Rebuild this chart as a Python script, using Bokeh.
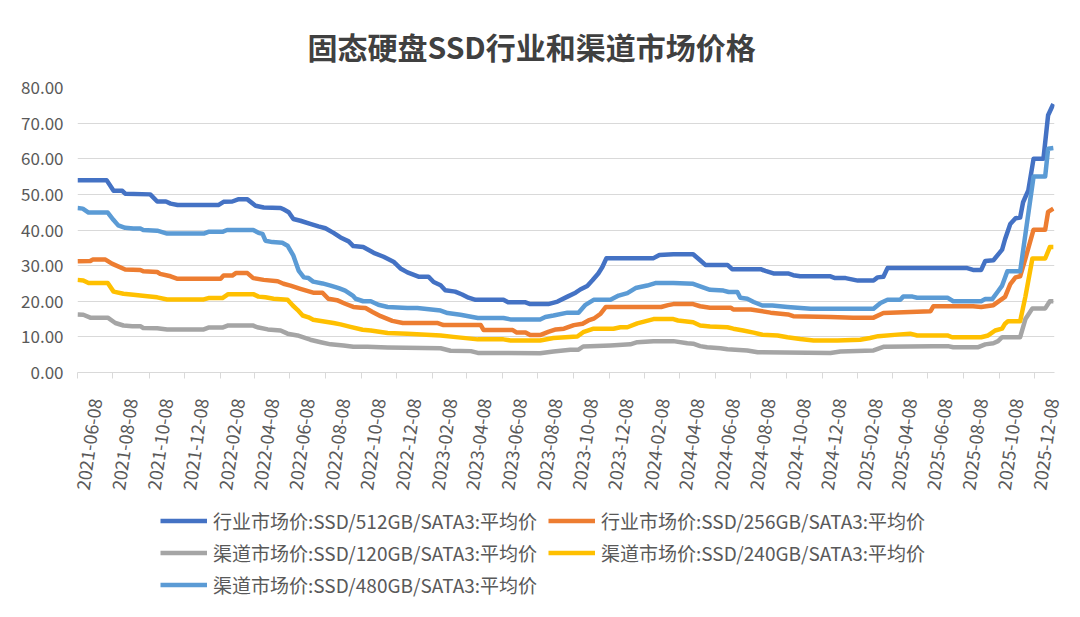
import pandas as pd
from bokeh.plotting import figure
from bokeh.layouts import column
from bokeh.models import (Range1d, FixedTicker, CustomJSTickFormatter, PrintfTickFormatter,
                          Legend, LegendItem)
from bokeh.embed import file_html
from bokeh.resources import INLINE

title_text = "固态硬盘SSD行业和渠道市场价格"

tick_dates = ["2021-06-08", "2021-08-08", "2021-10-08", "2021-12-08", "2022-02-08", "2022-04-08",
              "2022-06-08", "2022-08-08", "2022-10-08", "2022-12-08", "2023-02-08", "2023-04-08",
              "2023-06-08", "2023-08-08", "2023-10-08", "2023-12-08", "2024-02-08", "2024-04-08",
              "2024-06-08", "2024-08-08", "2024-10-08", "2024-12-08", "2025-02-08", "2025-04-08",
              "2025-06-08", "2025-08-08", "2025-10-08", "2025-12-08"]
minor_dates = ["2021-05-08", "2021-07-08", "2021-09-08", "2021-11-08", "2022-01-08", "2022-03-08",
               "2022-05-08", "2022-07-08", "2022-09-08", "2022-11-08", "2023-01-08", "2023-03-08",
               "2023-05-08", "2023-07-08", "2023-09-08", "2023-11-08", "2024-01-08", "2024-03-08",
               "2024-05-08", "2024-07-08", "2024-09-08", "2024-11-08", "2025-01-08", "2025-03-08",
               "2025-05-08", "2025-07-08", "2025-09-08", "2025-11-08"]
y_ticks = [0, 10, 20, 30, 40, 50, 60, 70, 80]

names = ["行业市场价:SSD/512GB/SATA3:平均价", "行业市场价:SSD/256GB/SATA3:平均价",
         "渠道市场价:SSD/120GB/SATA3:平均价", "渠道市场价:SSD/240GB/SATA3:平均价",
         "渠道市场价:SSD/480GB/SATA3:平均价"]
colors = ["#4472C4", "#ED7D31", "#A5A5A5", "#FFC000", "#5B9BD5"]

ind512 = [("2021-05-08", 54.0), ("2021-06-27", 54.0), ("2021-07-09", 51.0), ("2021-07-24", 51.0),
          ("2021-07-29", 50.2), ("2021-09-10", 50.0), ("2021-09-22", 48.0), ("2021-10-07", 48.0),
          ("2021-10-15", 47.4), ("2021-10-27", 47.0), ("2022-01-05", 47.0), ("2022-01-14", 47.9),
          ("2022-01-29", 48.0), ("2022-02-08", 48.6), ("2022-02-24", 48.6), ("2022-03-10", 46.8),
          ("2022-03-24", 46.3), ("2022-04-22", 46.2), ("2022-04-27", 45.8), ("2022-05-06", 45.0),
          ("2022-05-14", 43.1), ("2022-05-26", 42.6), ("2022-06-12", 41.7), ("2022-06-26", 41.0),
          ("2022-07-08", 40.5), ("2022-07-22", 39.2), ("2022-08-03", 37.9), ("2022-08-17", 36.8),
          ("2022-08-25", 35.5), ("2022-09-11", 35.2), ("2022-09-29", 33.6), ("2022-10-16", 32.5),
          ("2022-11-02", 31.1), ("2022-11-14", 29.2), ("2022-11-26", 28.1), ("2022-12-15", 26.9),
          ("2023-01-01", 26.9), ("2023-01-10", 25.4), ("2023-01-22", 24.5), ("2023-01-30", 23.1),
          ("2023-02-16", 22.7), ("2023-02-28", 21.9), ("2023-03-11", 21.0), ("2023-03-23", 20.4),
          ("2023-05-10", 20.4), ("2023-05-18", 19.7), ("2023-06-17", 19.7), ("2023-06-25", 19.2),
          ("2023-07-26", 19.2), ("2023-08-11", 19.9), ("2023-08-28", 21.3), ("2023-09-11", 22.4),
          ("2023-09-19", 23.3), ("2023-10-01", 24.3), ("2023-10-10", 25.9), ("2023-10-20", 27.8),
          ("2023-10-27", 29.6), ("2023-11-03", 32.1), ("2024-01-23", 32.1), ("2024-02-02", 33.0),
          ("2024-02-26", 33.2), ("2024-03-31", 33.2), ("2024-04-12", 31.5), ("2024-04-21", 30.2),
          ("2024-05-29", 30.2), ("2024-06-06", 29.0), ("2024-07-25", 29.0), ("2024-08-02", 28.5),
          ("2024-08-16", 27.8), ("2024-09-10", 27.8), ("2024-09-19", 27.3), ("2024-10-01", 27.0),
          ("2024-11-22", 27.0), ("2024-11-30", 26.5), ("2024-12-18", 26.5), ("2025-01-08", 25.8),
          ("2025-02-04", 25.8), ("2025-02-11", 26.7), ("2025-02-21", 26.9), ("2025-02-28", 29.3),
          ("2025-07-15", 29.3), ("2025-07-25", 28.8), ("2025-08-08", 28.8), ("2025-08-15", 31.3),
          ("2025-08-29", 31.5), ("2025-09-13", 34.5), ("2025-09-18", 37.4), ("2025-09-27", 41.7),
          ("2025-10-06", 43.3), ("2025-10-14", 43.5), ("2025-10-19", 47.8), ("2025-10-28", 51.1),
          ("2025-11-06", 60.0), ("2025-11-23", 60.0), ("2025-12-01", 72.2), ("2025-12-10", 75.4)]

ind256 = [("2021-05-08", 31.2), ("2021-05-30", 31.3), ("2021-06-03", 31.7), ("2021-06-25", 31.7),
          ("2021-07-07", 30.5), ("2021-07-29", 28.9), ("2021-08-24", 28.8), ("2021-08-29", 28.4),
          ("2021-09-22", 28.2), ("2021-09-27", 27.7), ("2021-10-15", 27.0), ("2021-10-27", 26.3),
          ("2022-01-09", 26.3), ("2022-01-14", 27.2), ("2022-01-29", 27.2), ("2022-02-04", 27.9),
          ("2022-02-24", 27.9), ("2022-03-06", 26.5), ("2022-03-24", 26.0), ("2022-04-17", 25.6),
          ("2022-04-27", 24.9), ("2022-05-09", 24.4), ("2022-05-26", 23.5), ("2022-06-17", 22.4),
          ("2022-07-03", 22.4), ("2022-07-13", 20.7), ("2022-07-28", 20.3), ("2022-08-11", 19.3),
          ("2022-08-25", 18.4), ("2022-09-07", 18.2), ("2022-09-15", 18.1), ("2022-09-27", 17.0),
          ("2022-10-11", 15.8), ("2022-10-31", 14.5), ("2022-11-18", 13.9), ("2023-01-16", 13.9),
          ("2023-01-27", 13.3), ("2023-04-01", 13.3), ("2023-04-06", 11.9), ("2023-05-26", 11.9),
          ("2023-06-02", 11.2), ("2023-06-17", 11.2), ("2023-06-25", 10.5), ("2023-07-12", 10.5),
          ("2023-07-26", 11.4), ("2023-08-08", 12.1), ("2023-08-22", 12.3), ("2023-09-08", 13.3),
          ("2023-09-23", 13.7), ("2023-10-03", 14.6), ("2023-10-12", 15.1), ("2023-10-24", 16.5),
          ("2023-11-02", 18.4), ("2024-02-05", 18.4), ("2024-02-17", 18.9), ("2024-02-26", 19.2),
          ("2024-03-31", 19.2), ("2024-04-12", 18.6), ("2024-04-29", 18.2), ("2024-06-04", 18.2),
          ("2024-06-08", 17.7), ("2024-07-08", 17.7), ("2024-08-11", 16.8), ("2024-09-10", 16.3),
          ("2024-09-19", 15.8), ("2024-11-22", 15.6), ("2024-12-31", 15.4), ("2025-02-04", 15.4),
          ("2025-02-21", 16.7), ("2025-05-13", 17.2), ("2025-05-18", 18.6), ("2025-07-25", 18.6),
          ("2025-08-08", 18.4), ("2025-08-29", 18.9), ("2025-09-10", 20.3), ("2025-09-18", 21.2),
          ("2025-09-27", 24.8), ("2025-10-06", 26.7), ("2025-10-14", 27.0), ("2025-10-23", 32.0),
          ("2025-11-06", 40.1), ("2025-11-26", 40.1), ("2025-12-01", 45.1), ("2025-12-10", 46.0)]

ch120 = [("2021-05-08", 16.3), ("2021-05-18", 16.2), ("2021-05-30", 15.4), ("2021-06-29", 15.4),
         ("2021-07-12", 13.9), ("2021-07-26", 13.2), ("2021-08-10", 13.0), ("2021-08-24", 13.0),
         ("2021-08-29", 12.5), ("2021-09-22", 12.4), ("2021-10-09", 12.1), ("2021-12-11", 12.1),
         ("2021-12-19", 12.6), ("2022-01-12", 12.6), ("2022-01-22", 13.2), ("2022-03-05", 13.2),
         ("2022-03-13", 12.7), ("2022-03-31", 12.1), ("2022-04-22", 11.8), ("2022-05-04", 10.9),
         ("2022-05-21", 10.4), ("2022-06-12", 9.2), ("2022-06-30", 8.5), ("2022-07-17", 7.9),
         ("2022-08-08", 7.6), ("2022-08-25", 7.2), ("2022-09-18", 7.2), ("2022-10-23", 7.0),
         ("2023-01-22", 6.8), ("2023-02-08", 6.1), ("2023-03-15", 6.0), ("2023-03-27", 5.5),
         ("2023-07-12", 5.4), ("2023-08-04", 5.9), ("2023-09-02", 6.4), ("2023-09-16", 6.4),
         ("2023-09-24", 7.3), ("2023-11-10", 7.6), ("2023-12-14", 7.9), ("2023-12-26", 8.5),
         ("2024-01-23", 8.8), ("2024-02-26", 8.8), ("2024-03-21", 8.2), ("2024-03-31", 8.1),
         ("2024-04-12", 7.4), ("2024-04-24", 7.1), ("2024-05-17", 6.8), ("2024-05-29", 6.5),
         ("2024-07-02", 6.2), ("2024-07-20", 5.7), ("2024-11-22", 5.5), ("2024-12-09", 5.9),
         ("2025-02-04", 6.2), ("2025-02-21", 7.2), ("2025-05-18", 7.4), ("2025-06-12", 7.4),
         ("2025-06-21", 7.1), ("2025-08-03", 7.1), ("2025-08-15", 7.9), ("2025-08-29", 8.2),
         ("2025-09-06", 8.8), ("2025-09-13", 9.9), ("2025-10-14", 9.9), ("2025-10-23", 15.0),
         ("2025-11-04", 18.0), ("2025-11-26", 18.0), ("2025-12-04", 20.0), ("2025-12-10", 20.0)]

ch240 = [("2021-05-08", 26.0), ("2021-05-18", 25.8), ("2021-05-27", 25.1), ("2021-06-29", 25.1),
         ("2021-07-09", 22.7), ("2021-07-26", 22.1), ("2021-08-12", 21.8), ("2021-09-05", 21.4),
         ("2021-09-22", 21.1), ("2021-10-09", 20.5), ("2021-12-11", 20.5), ("2021-12-19", 20.9),
         ("2022-01-12", 20.9), ("2022-01-22", 22.0), ("2022-03-06", 22.0), ("2022-03-15", 21.3),
         ("2022-03-27", 21.1), ("2022-04-10", 20.7), ("2022-05-04", 20.4), ("2022-05-13", 18.8),
         ("2022-05-21", 17.6), ("2022-05-30", 16.0), ("2022-06-09", 15.5), ("2022-06-17", 14.8),
         ("2022-07-03", 14.4), ("2022-07-22", 13.9), ("2022-08-03", 13.5), ("2022-08-20", 12.8),
         ("2022-09-10", 12.0), ("2022-09-24", 11.8), ("2022-10-23", 11.1), ("2022-11-26", 10.9),
         ("2023-01-22", 10.4), ("2023-02-13", 10.0), ("2023-03-27", 9.3), ("2023-05-10", 9.3),
         ("2023-05-22", 9.0), ("2023-07-12", 9.0), ("2023-08-04", 9.7), ("2023-09-14", 10.1),
         ("2023-09-24", 11.3), ("2023-10-12", 12.3), ("2023-11-15", 12.3), ("2023-11-27", 12.7),
         ("2023-12-09", 12.7), ("2023-12-26", 13.8), ("2024-01-23", 15.0), ("2024-02-26", 15.0),
         ("2024-03-05", 14.6), ("2024-03-31", 14.1), ("2024-04-12", 13.2), ("2024-04-29", 12.9),
         ("2024-05-29", 12.7), ("2024-06-08", 12.3), ("2024-06-25", 11.8), ("2024-07-13", 11.2),
         ("2024-07-28", 10.6), ("2024-08-23", 10.4), ("2024-09-09", 9.9), ("2024-10-01", 9.4),
         ("2024-10-24", 9.0), ("2024-12-04", 9.0), ("2025-01-12", 9.2), ("2025-01-29", 9.7),
         ("2025-02-12", 10.2), ("2025-03-22", 10.7), ("2025-04-08", 10.9), ("2025-04-20", 10.4),
         ("2025-06-11", 10.4), ("2025-06-19", 9.9), ("2025-08-08", 9.9), ("2025-08-20", 10.4),
         ("2025-09-01", 11.8), ("2025-09-13", 12.3), ("2025-09-18", 13.7), ("2025-09-23", 14.4),
         ("2025-10-14", 14.4), ("2025-10-23", 21.3), ("2025-11-04", 32.0), ("2025-11-26", 32.0),
         ("2025-12-04", 35.2), ("2025-12-10", 35.2)]

ch480 = [("2021-05-08", 46.2), ("2021-05-17", 46.0), ("2021-05-27", 44.9), ("2021-06-29", 44.9),
         ("2021-07-09", 42.8), ("2021-07-17", 41.3), ("2021-07-29", 40.6), ("2021-08-12", 40.4),
         ("2021-08-24", 40.4), ("2021-08-29", 40.0), ("2021-09-22", 39.8), ("2021-10-09", 39.0),
         ("2021-12-11", 39.0), ("2021-12-19", 39.5), ("2022-01-12", 39.5), ("2022-01-20", 40.0),
         ("2022-03-06", 40.0), ("2022-03-15", 39.2), ("2022-03-22", 38.9), ("2022-03-27", 37.0),
         ("2022-04-08", 36.6), ("2022-04-25", 36.4), ("2022-05-04", 35.6), ("2022-05-14", 32.8),
         ("2022-05-23", 28.6), ("2022-06-01", 26.7), ("2022-06-09", 26.5), ("2022-06-17", 25.5),
         ("2022-07-03", 25.0), ("2022-07-17", 24.4), ("2022-07-31", 23.7), ("2022-08-11", 23.0),
         ("2022-08-24", 21.6), ("2022-08-29", 20.7), ("2022-09-11", 20.0), ("2022-09-24", 20.0),
         ("2022-10-07", 19.0), ("2022-10-23", 18.4), ("2022-11-26", 18.1), ("2022-12-13", 18.1),
         ("2023-01-22", 17.4), ("2023-02-03", 16.7), ("2023-02-25", 16.2), ("2023-03-27", 15.3),
         ("2023-05-10", 15.3), ("2023-05-22", 14.9), ("2023-07-12", 14.9), ("2023-07-21", 15.6),
         ("2023-08-04", 16.0), ("2023-08-28", 16.8), ("2023-09-16", 16.8), ("2023-09-28", 19.0),
         ("2023-10-12", 20.4), ("2023-11-10", 20.4), ("2023-11-24", 21.6), ("2023-12-09", 22.3),
         ("2023-12-23", 23.7), ("2024-01-12", 24.4), ("2024-01-26", 25.1), ("2024-02-26", 25.1),
         ("2024-03-31", 24.9), ("2024-04-12", 24.2), ("2024-04-29", 23.2), ("2024-05-22", 23.0),
         ("2024-05-31", 22.6), ("2024-06-15", 22.6), ("2024-06-20", 21.0), ("2024-07-02", 20.7),
         ("2024-07-13", 19.8), ("2024-07-28", 18.8), ("2024-08-14", 18.8), ("2024-09-09", 18.4),
         ("2024-10-19", 17.9), ("2025-02-04", 17.9), ("2025-02-16", 19.5), ("2025-02-28", 20.4),
         ("2025-03-22", 20.4), ("2025-03-27", 21.3), ("2025-04-12", 21.3), ("2025-04-20", 21.0),
         ("2025-06-11", 21.0), ("2025-06-21", 20.0), ("2025-08-08", 20.0), ("2025-08-15", 20.6),
         ("2025-08-27", 20.6), ("2025-09-06", 22.8), ("2025-09-13", 24.4), ("2025-09-22", 28.4),
         ("2025-10-14", 28.4), ("2025-11-06", 55.0), ("2025-11-26", 55.0), ("2025-12-01", 62.8),
         ("2025-12-10", 63.0)]

series = [ind512, ind256, ch120, ch240, ch480]

FONT = "Noto Sans CJK SC"
GRAY_TXT = "#595959"
GRID = "#d9d9d9"


def ms(s):
    return pd.Timestamp(s).timestamp() * 1000.0


# ---- main chart ----
p = figure(width=1064, height=500, x_axis_type="datetime", output_backend="svg",
           toolbar_location=None, min_border_left=77, min_border_right=10,
           min_border_top=87, min_border_bottom=128)
p.x_range = Range1d(ms("2021-05-08"), ms("2021-05-08") + 1679 * 86400000.0)
p.y_range = Range1d(0, 80)
p.outline_line_color = None
p.background_fill_color = "white"
p.border_fill_color = "white"

p.title.text = title_text
p.title.align = "left"
p.title.vertical_align = "top"
p.title.offset = 230
p.title.standoff = 36
p.title.text_font = FONT
p.title.text_font_size = "30px"
p.title.text_font_style = "bold"
p.title.text_color = "#404040"

p.xgrid.visible = False
p.ygrid.grid_line_color = GRID
p.ygrid.grid_line_width = 1
p.ygrid.ticker = FixedTicker(ticks=y_ticks)

yax = p.yaxis[0]
yax.ticker = FixedTicker(ticks=y_ticks)
yax.formatter = PrintfTickFormatter(format="%.2f")
yax.axis_line_color = None
yax.major_tick_line_color = None
yax.minor_tick_line_color = None
yax.major_tick_out = 0
yax.major_tick_in = 0
yax.major_label_standoff = 14
yax.major_label_text_font = FONT
yax.major_label_text_font_size = "17px"
yax.major_label_text_color = GRAY_TXT

xax = p.xaxis[0]
xax.ticker = FixedTicker(ticks=[ms(d) for d in tick_dates], minor_ticks=[ms(d) for d in minor_dates])
xax.formatter = CustomJSTickFormatter(code="return new Date(tick).toISOString().slice(0, 10);")
xax.axis_line_color = GRID
xax.axis_line_width = 1
xax.major_tick_line_color = None
xax.major_tick_out = 0
xax.major_tick_in = 0
xax.minor_tick_line_color = GRID
xax.minor_tick_out = 6
xax.minor_tick_in = 0
xax.major_label_orientation = 1.43
xax.major_label_standoff = 20
xax.major_label_text_font = FONT
xax.major_label_text_font_size = "18px"
xax.major_label_text_color = GRAY_TXT

for data, col in zip(series, colors):
    xs = pd.to_datetime([d for d, _ in data])
    ys = [v for _, v in data]
    p.line(xs, ys, line_color=col, line_width=4.5, line_join="round")

# ---- legend strip (same series drawn outside its view, only the legend shows) ----
lg = figure(width=1064, height=101, output_backend="svg", toolbar_location=None,
            x_axis_location=None, y_axis_location=None, min_border=0,
            x_range=Range1d(0, 1), y_range=Range1d(0, 1))
lg.outline_line_color = None
lg.grid.visible = False
lg.background_fill_color = "white"
lg.border_fill_color = "white"

items = []
for data, name, col in zip(series, names, colors):
    xs = pd.to_datetime([d for d, _ in data])
    ys = [v for _, v in data]
    r = lg.line(xs, ys, line_color=col, line_width=4.5)
    items.append(LegendItem(label=name, renderers=[r]))

legend = Legend(items=items, location=(83, 3), orientation="horizontal", ncols=2,
                glyph_width=47, glyph_height=21, label_height=21, label_width=330,
                label_standoff=6, spacing=5, padding=0, margin=0, border_line_color=None,
                background_fill_alpha=0, label_text_font=FONT, label_text_font_size="19px",
                label_text_color=GRAY_TXT)
lg.add_layout(legend, "center")

layout = column(p, lg, spacing=0)
open("out.html", "w").write(file_html(layout, INLINE))
